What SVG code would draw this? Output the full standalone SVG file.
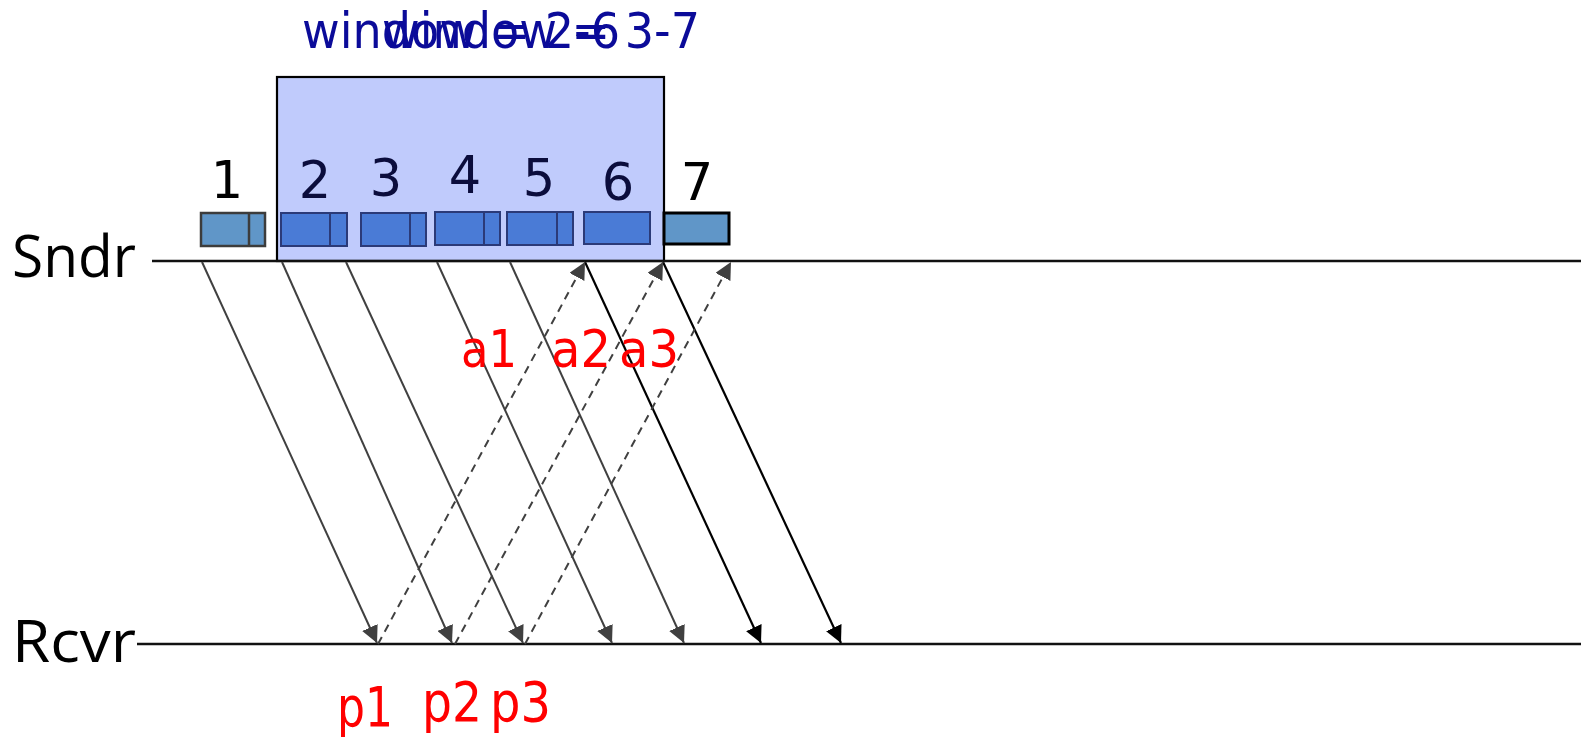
<svg xmlns="http://www.w3.org/2000/svg" width="1581" height="737" viewBox="0 0 1581 737">
<style>
.axis{stroke:#111;stroke-width:2.5;fill:none}
.lbl{font-family:"Open Sans","Liberation Sans",sans-serif;font-size:59px;fill:#000}
.num{font-family:"DejaVu Sans",sans-serif;font-size:51px;text-anchor:middle}
.win{font-family:"DejaVu Sans",sans-serif;font-size:50px;fill:#0b0b99}
.red{font-family:"DejaVu Sans",sans-serif;fill:#ff0000}
.pk{fill:#4a7bd6;stroke:#2b3a78;stroke-width:2}
.pk2{fill:#6096c8}
.data{stroke:#404040;stroke-width:2;fill:none;marker-end:url(#ag)}
.datab{stroke:#000;stroke-width:2.2;fill:none;marker-end:url(#ab)}
.ack{stroke:#404040;stroke-width:2;fill:none;stroke-dasharray:8 6;marker-end:url(#ag)}
</style>
<defs>
<marker id="ag" markerUnits="userSpaceOnUse" markerWidth="17" markerHeight="17" refX="15" refY="7.5" orient="auto" viewBox="0 0 15 15"><path d="M0,0 L15,7.5 L0,15 z" fill="#404040"/></marker>
<marker id="ab" markerUnits="userSpaceOnUse" markerWidth="17" markerHeight="17" refX="15" refY="7.5" orient="auto" viewBox="0 0 15 15"><path d="M0,0 L15,7.5 L0,15 z" fill="#000"/></marker>
</defs>
<rect width="1581" height="737" fill="#fff"/>

<g id="window">
<rect x="277" y="77" width="387" height="184" fill="#c0cbfc" stroke="#000" stroke-width="2.2"/>
<text class="win" x="302" y="48" textLength="318" lengthAdjust="spacingAndGlyphs">window = 2-6</text>
<text class="win" x="382" y="48" textLength="318" lengthAdjust="spacingAndGlyphs">window = 3-7</text>
</g>

<g id="pkt1">
<rect class="pk2" x="201" y="213" width="64" height="33" stroke="#3c3c3c" stroke-width="2.5"/>
<line x1="249" y1="213" x2="249" y2="246" stroke="#3c3c3c" stroke-width="2.5"/>
<text class="num" x="227" y="198" fill="#000">1</text>
</g>
<g id="pkt2">
<rect class="pk" x="281" y="213" width="66" height="33"/>
<line x1="330" y1="213" x2="330" y2="246" stroke="#2b3a78" stroke-width="2"/>
<text class="num" x="315" y="198" fill="#0b0d3c">2</text>
</g>
<g id="pkt3">
<rect class="pk" x="361" y="213" width="65" height="33"/>
<line x1="410" y1="213" x2="410" y2="246" stroke="#2b3a78" stroke-width="2"/>
<text class="num" x="386" y="196" fill="#0b0d3c">3</text>
</g>
<g id="pkt4">
<rect class="pk" x="435" y="212" width="65" height="33"/>
<line x1="484" y1="212" x2="484" y2="245" stroke="#2b3a78" stroke-width="2"/>
<text class="num" x="465" y="193" fill="#0b0d3c">4</text>
</g>
<g id="pkt5">
<rect class="pk" x="507" y="212" width="66" height="33"/>
<line x1="557" y1="212" x2="557" y2="245" stroke="#2b3a78" stroke-width="2"/>
<text class="num" x="539" y="196" fill="#0b0d3c">5</text>
</g>
<g id="pkt6">
<rect class="pk" x="584" y="212" width="66" height="32" stroke="#0d1a50" stroke-width="2.5"/>
<text class="num" x="618" y="200" fill="#0b0d3c">6</text>
</g>
<g id="pkt7">
<rect class="pk2" x="664" y="213" width="65" height="31" stroke="#000" stroke-width="3"/>
<text class="num" x="697" y="200" fill="#000">7</text>
</g>

<g id="sndr">
<line class="axis" x1="152" y1="261" x2="1581" y2="261"/>
<text class="lbl" x="12" y="277" textLength="124" lengthAdjust="spacingAndGlyphs">Sndr</text>
</g>
<g id="rcvr">
<line class="axis" x1="137" y1="644" x2="1581" y2="644"/>
<text class="lbl" x="12" y="662" textLength="124" lengthAdjust="spacingAndGlyphs">Rcvr</text>
</g>

<g id="connectors">
<line class="data" x1="202" y1="262" x2="377" y2="643"/>
<line class="data" x1="282" y1="262" x2="452" y2="643"/>
<line class="data" x1="346" y1="262" x2="523" y2="643"/>
<line class="data" x1="437" y1="262" x2="612" y2="643"/>
<line class="data" x1="510" y1="262" x2="684" y2="643"/>
<line class="datab" x1="585" y1="262" x2="761" y2="643"/>
<line class="datab" x1="663" y1="262" x2="841" y2="643"/>
<line class="ack" x1="378" y1="644" x2="585" y2="262"/>
<line class="ack" x1="455" y1="644" x2="663" y2="262"/>
<line class="ack" x1="525" y1="644" x2="731" y2="262"/>
</g>

<g id="ack-labels">
<text class="red" x="461" y="367" font-size="52" textLength="56" lengthAdjust="spacingAndGlyphs">a1</text>
<text class="red" x="551" y="367" font-size="52" textLength="60" lengthAdjust="spacingAndGlyphs">a2</text>
<text class="red" x="619" y="367" font-size="52" textLength="60" lengthAdjust="spacingAndGlyphs">a3</text>
</g>
<g id="pkt-labels">
<text class="red" x="337" y="726" font-size="56" textLength="56" lengthAdjust="spacingAndGlyphs">p1</text>
<text class="red" x="422" y="721" font-size="56" textLength="60" lengthAdjust="spacingAndGlyphs">p2</text>
<text class="red" x="490" y="721" font-size="56" textLength="61" lengthAdjust="spacingAndGlyphs">p3</text>
</g>
</svg>
